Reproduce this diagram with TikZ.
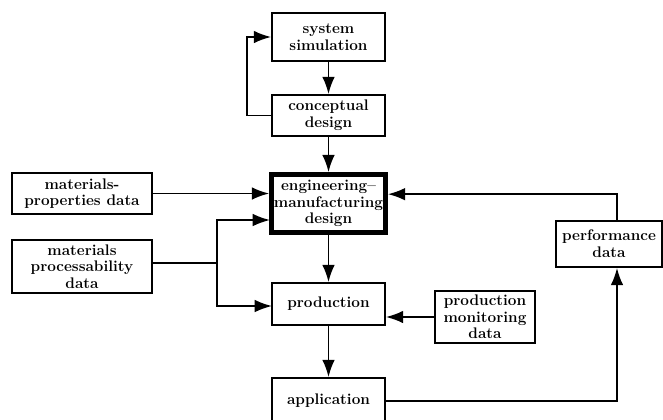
\documentclass[tikz,border=0pt]{standalone}
\usepackage{tikz}
\usetikzlibrary{arrows.meta,calc}
\tikzset{
  b/.style={rectangle,draw,line width=1.3pt,minimum width=113*0.75pt,inner sep=1pt,align=center,font=\fontsize{11.5}{12.5}\selectfont\bfseries},
  sb/.style={b,minimum width=140*0.75pt},
  arr/.style={-{Latex[length=13pt,width=9.5pt]},line width=1.4pt},
  ln/.style={line width=1.4pt},
}

\begin{document}
\begin{tikzpicture}[x=0.75pt,y=-0.75pt]
  \useasboundingbox (0,0) rectangle (663,419);
  \clip (0,0) rectangle (663,419);
  % main chain
  \node[b,minimum height=48*0.75pt] (sim) at (328.5,37) {system\\simulation};
  \node[b,minimum height=41*0.75pt] (cd) at (328.5,115.5) {conceptual\\design};
  \node[b,line width=3.5pt,minimum width=114*0.75pt,minimum height=58*0.75pt] (emd) at (328.5,203.5) {engineering--\\manufacturing\\design};
  \node[b,minimum height=42*0.75pt] (prod) at (328.5,304) {production};
  \node[b,minimum height=46*0.75pt] (app) at (328.5,401) {application};
  % data boxes
  \node[sb,minimum height=41*0.75pt] (mpd) at (82,193.5) {materials-\\properties data};
  \node[sb,minimum height=53*0.75pt] (mproc) at (82,266.5) {materials\\processability\\data};
  \node[b,minimum width=100*0.75pt,minimum height=52*0.75pt] (pmon) at (485,317) {production\\monitoring\\data};
  \node[b,minimum width=106*0.75pt,minimum height=46*0.75pt] (perf) at (609,244) {performance\\data};
  \coordinate (split) at (217,263);
  \coordinate (emdin) at (270,220);
  \coordinate (prodin) at (272,306);

  \draw[arr] (sim) -- (cd);
  \draw[arr] (cd.west) -- +(-24,0) |- (sim.west);
  \draw[arr] (cd) -- (emd);
  \draw[arr] (mpd.east) -- (mpd.east -| emd.west);
  \draw[ln] (mproc.east |- split) -- (split);
  \draw[arr] (split) |- (emdin);
  \draw[arr] (split) |- (prodin);
  \draw[arr] (emd) -- (prod);
  \draw[arr] (pmon.west) -- (pmon.west -| prod.east);
  \draw[arr] (prod) -- (app);
  \draw[arr] (app.east) -| ([xshift=6pt]perf.south);
  \draw[arr] ([xshift=6pt]perf.north) |- ([yshift=7pt]emd.east);
\end{tikzpicture}
\end{document}
